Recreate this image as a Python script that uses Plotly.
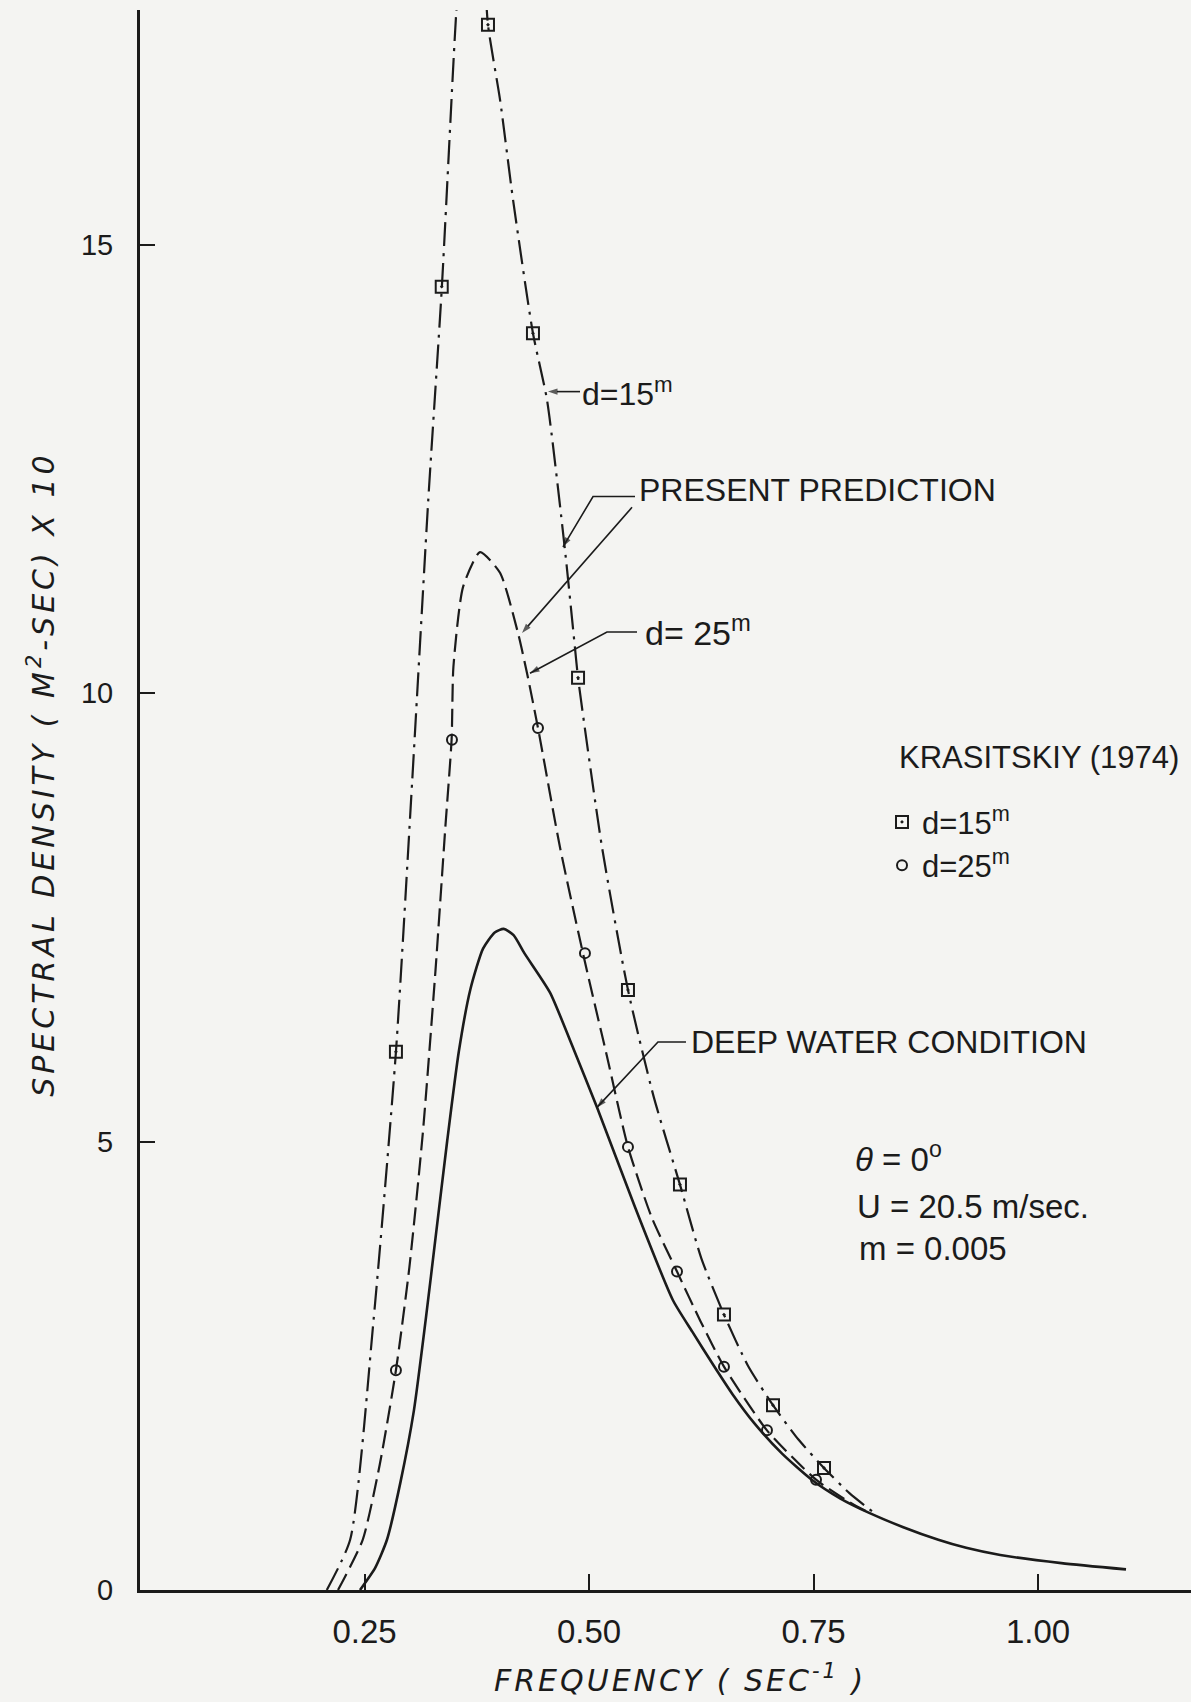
import plotly.graph_objects as go

# ---------------- data ----------------
# Deep water condition (solid line)
deep_freq = [0.245, 0.262, 0.275, 0.290, 0.305, 0.318, 0.330, 0.342, 0.355, 0.368,
             0.382, 0.395, 0.405, 0.416, 0.428, 0.4566, 0.480, 0.509, 0.550, 0.5935,
             0.615, 0.639, 0.660, 0.684, 0.715, 0.748, 0.780, 0.812, 0.850, 0.889,
             0.920, 0.958, 1.026, 1.098]
deep_dens = [0.0, 0.25, 0.56, 1.2, 2.0, 3.0, 4.0, 5.0, 6.0, 6.7,
             7.15, 7.33, 7.37, 7.30, 7.10, 6.66, 6.10, 5.38, 4.30, 3.23,
             2.88, 2.50, 2.18, 1.86, 1.52, 1.23, 1.02, 0.86, 0.70, 0.56,
             0.47, 0.39, 0.30, 0.23]

# Present prediction, d = 25 m (dashed line)
d25_freq = [0.2205, 0.248, 0.267, 0.285, 0.300, 0.315, 0.329, 0.340, 0.347, 0.349,
            0.3597, 0.3786, 0.4009, 0.4209, 0.431, 0.4432, 0.4677, 0.4955, 0.520, 0.5434,
            0.570, 0.598, 0.624, 0.6503, 0.6982, 0.7528, 0.790, 0.812]
d25_dens = [0.0, 0.56, 1.4, 2.45, 3.6, 5.1, 6.9, 8.5, 9.48, 10.29,
            11.18, 11.57, 11.34, 10.67, 10.22, 9.61, 8.28, 7.00, 5.95, 4.94,
            4.15, 3.55, 3.00, 2.49, 1.78, 1.23, 0.98, 0.86]

# Present prediction, d = 15 m (dash-dot line)
d15_freq = [0.208, 0.234, 0.260, 0.285, 0.303, 0.321, 0.336, 0.352, 0.360, 0.370,
            0.380, 0.3875, 0.401, 0.4154, 0.4376, 0.4532, 0.4733, 0.4844, 0.4878, 0.5145,
            0.5434, 0.572, 0.6013, 0.625, 0.6503, 0.677, 0.7049, 0.733, 0.7617, 0.790, 0.820]
d15_dens = [0.0, 0.56, 3.0, 6.0, 9.0, 12.15, 14.5, 17.56, 18.6, 19.1,
            18.6, 17.45, 16.61, 15.50, 14.01, 13.27, 11.59, 10.50, 10.17, 8.28,
            6.69, 5.50, 4.52, 3.70, 3.07, 2.50, 2.06, 1.68, 1.36, 1.08, 0.84]

# Krasitskiy (1974) data points
kr15_freq = [0.285, 0.336, 0.3875, 0.4376, 0.4878, 0.5434, 0.6013, 0.6503, 0.7049, 0.7617]
kr15_dens = [6.0, 14.53, 17.45, 14.01, 10.17, 6.69, 4.52, 3.07, 2.06, 1.36]
kr25_freq = [0.285, 0.3474, 0.4432, 0.4955, 0.5434, 0.598, 0.6503, 0.6982, 0.7528]
kr25_dens = [2.45, 9.48, 9.61, 7.10, 4.94, 3.55, 2.49, 1.78, 1.23]

x_tickvals = [0.25, 0.50, 0.75, 1.00]
x_ticktext = ["0.25", "0.50", "0.75", "1.00"]
y_tickvals = [0, 5, 10, 15]
y_ticktext = ["0", "5", "10", "15"]

# ---------------- figure ----------------
INK = "#1b1b1b"
BG = "#f4f4f2"
TXT = "Liberation Sans, Arial, sans-serif"

fig = go.Figure()

fig.add_trace(go.Scatter(x=deep_freq, y=deep_dens, mode="lines",
                         line=dict(color=INK, width=2.6, shape="spline", smoothing=0.6),
                         showlegend=False, hoverinfo="skip"))
fig.add_trace(go.Scatter(x=d25_freq, y=d25_dens, mode="lines",
                         line=dict(color=INK, width=2.2, dash="18px,7px",
                                   shape="spline", smoothing=0.6),
                         showlegend=False, hoverinfo="skip"))
fig.add_trace(go.Scatter(x=d15_freq, y=d15_dens, mode="lines",
                         line=dict(color=INK, width=2.2, dash="24px,7px,3px,7px",
                                   shape="spline", smoothing=0.6),
                         showlegend=False, hoverinfo="skip"))

fig.add_trace(go.Scatter(x=kr15_freq, y=kr15_dens, mode="markers", name="d=15<sup>m</sup>",
                         marker=dict(symbol="square-open-dot", size=12, color=INK,
                                     line=dict(width=2, color=INK)),
                         cliponaxis=False))
fig.add_trace(go.Scatter(x=kr25_freq, y=kr25_dens, mode="markers", name="d=25<sup>m</sup>",
                         marker=dict(symbol="circle-open", size=10, color=INK,
                                     line=dict(width=2, color=INK)),
                         cliponaxis=False))

# leader lines: label side -> (bend) -> tip on the curve, arrowhead at the tip
leaders = [
    ([0.490, 0.4543], [13.36, 13.36]),                   # d=15
    ([0.5512, 0.5045, 0.471], [12.19, 12.19, 11.63]),    # present prediction -> d15
    ([0.5479, 0.4254], [12.07, 10.67]),                  # present prediction -> d25
    ([0.5535, 0.520, 0.4343], [10.68, 10.68, 10.22]),    # d=25
    ([0.608, 0.5768, 0.5089], [6.11, 6.11, 5.38]),       # deep water
]
for lx, ly in leaders:
    n = len(lx)
    fig.add_trace(go.Scatter(
        x=lx, y=ly, mode="lines+markers", showlegend=False, hoverinfo="skip",
        line=dict(color=INK, width=1.6),
        marker=dict(symbol=["circle"] * (n - 1) + ["arrow"], size=[0] * (n - 1) + [10],
                    angleref="previous", color=INK, line=dict(width=0)),
        cliponaxis=False))

X_MAX = 1051 / 898
Y_MAX = 1580 / 89.7

fig.update_layout(
    width=1191, height=1702,
    margin=dict(l=140, r=0, t=10, b=112, pad=0),
    paper_bgcolor=BG, plot_bgcolor=BG,
    font=dict(family=TXT, color=INK),
    legend=dict(
        x=0.706, y=0.503, xanchor="left", yanchor="top",
        bgcolor="rgba(0,0,0,0)", font=dict(size=31, family=TXT, color=INK),
        itemwidth=30, tracegroupgap=0,
    ),
    xaxis=dict(range=[0, X_MAX], showgrid=False, zeroline=False,
               showline=True, linewidth=3, linecolor=INK,
               ticks="inside", ticklen=16, tickwidth=2, tickcolor=INK,
               tickvals=x_tickvals, ticktext=x_ticktext,
               tickfont=dict(size=33, family=TXT, color=INK),
               ticklabelstandoff=10),
    yaxis=dict(range=[0, Y_MAX], showgrid=False, zeroline=False,
               showline=True, linewidth=3, linecolor=INK,
               ticks="inside", ticklen=15, tickwidth=2, tickcolor=INK,
               tickvals=y_tickvals, ticktext=y_ticktext,
               tickfont=dict(size=29, family=TXT, color=INK),
               ticklabelstandoff=18),
)

ann_font = dict(size=32, family=TXT, color=INK)
big_font = dict(size=33, family=TXT, color=INK)

annotations = [
    # axis titles (lettering is widely spaced in the original)
    dict(x=-0.0932, y=0.516, xref="paper", yref="paper", showarrow=False, textangle=-90,
         xanchor="center", yanchor="middle",
         text="<span style='letter-spacing:4px'>SPECTRAL DENSITY ( M<sup>2</sup>-SEC) X 10</span>",
         font=dict(size=30, family="DejaVu Sans", color=INK, style="italic")),
    dict(x=0.514, y=-0.0557, xref="paper", yref="paper", showarrow=False,
         xanchor="center", yanchor="middle",
         text="<span style='letter-spacing:3px'>FREQUENCY ( SEC<sup>-1</sup> )</span>",
         font=dict(size=30, family="DejaVu Sans", color=INK, style="italic")),
    # curve labels
    dict(x=0.490, y=13.36, xref="x", yref="y", showarrow=False, xanchor="left",
         yanchor="middle", text="d=15<sup>m</sup>", font=ann_font),
    dict(x=0.5535, y=12.26, xref="x", yref="y", showarrow=False, xanchor="left",
         yanchor="middle", text="PRESENT PREDICTION", font=ann_font),
    dict(x=0.5601, y=10.70, xref="x", yref="y", showarrow=False, xanchor="left",
         yanchor="middle", text="d= 25<sup>m</sup>", font=dict(size=34, family=TXT, color=INK)),
    dict(x=0.6114, y=6.11, xref="x", yref="y", showarrow=False, xanchor="left",
         yanchor="middle", text="DEEP WATER CONDITION", font=ann_font),
    dict(x=0.843, y=9.28, xref="x", yref="y", showarrow=False, xanchor="left",
         yanchor="middle", text="KRASITSKIY (1974)", font=dict(size=31, family=TXT, color=INK)),
    dict(x=0.794, y=4.83, xref="x", yref="y", showarrow=False, xanchor="left",
         yanchor="middle", text="<i>θ</i> = 0<sup>o</sup>", font=big_font),
    dict(x=0.796, y=4.27, xref="x", yref="y", showarrow=False, xanchor="left",
         yanchor="middle", text="U = 20.5 m/sec.", font=big_font),
    dict(x=0.798, y=3.81, xref="x", yref="y", showarrow=False, xanchor="left",
         yanchor="middle", text="m = 0.005", font=big_font),
]
fig.update_layout(annotations=annotations)

fig.write_html("out.html")
